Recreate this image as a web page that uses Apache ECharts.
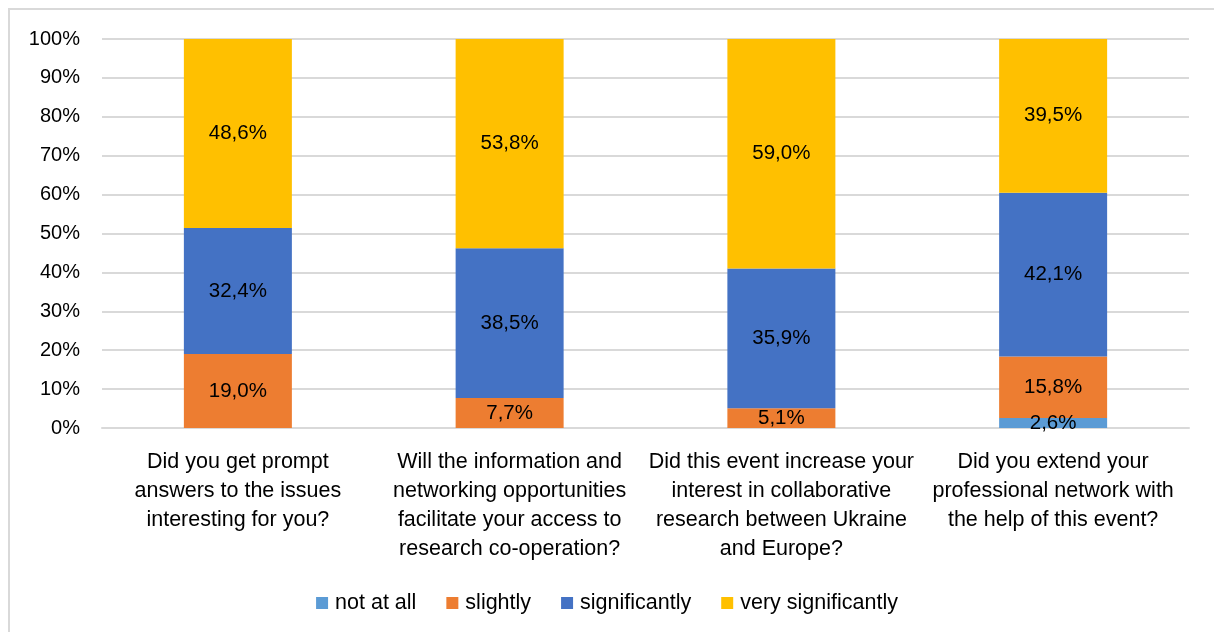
<!DOCTYPE html>
<html>
<head>
<meta charset="utf-8">
<script src="https://cdn.jsdelivr.net/npm/echarts@6/dist/echarts.min.js"></script>
<style>
  html, body { margin: 0; padding: 0; background: #fff; }
  #chart { width: 1214px; height: 632px; }
</style>
</head>
<body>
<div id="chart"></div>
<script>
// questions on the x axis (line breaks as in the picture)
var categories = [
  'Did you get prompt\nanswers to the issues\ninteresting for you?',
  'Will the information and\nnetworking opportunities\nfacilitate your access to\nresearch co-operation?',
  'Did this event increase your\ninterest in collaborative\nresearch between Ukraine\nand Europe?',
  'Did you extend your\nprofessional network with\nthe help of this event?'
]
// shares in percent
var notAtAll = [0, 0, 0, 2.6]
var slightly = [19.0, 7.7, 5.1, 15.8]
var significantly = [32.4, 38.5, 35.9, 42.1]
var verySignificantly = [48.6, 53.8, 59.0, 39.5]
var yTicks = [0, 10, 20, 30, 40, 50, 60, 70, 80, 90, 100]

var FONT = 'Liberation Sans'

function makeSeries(name, data, color) {
  return {
    name: name,
    type: 'bar',
    stack: 'total',
    barWidth: 108,
    data: data,
    itemStyle: { color: color },
    label: {
      show: true,
      position: 'inside',
      color: '#000',
      fontFamily: FONT,
      fontSize: 20.5,
      // hide zero shares, comma as decimal sign
      formatter: function (p) {
        if (!p.value) return ''
        return p.value.toFixed(1).replace('.', ',') + '%'
      }
    }
  }
}

var chart = echarts.init(document.getElementById('chart'))
chart.setOption({
  animation: false,
  textStyle: { fontFamily: FONT },
  graphic: [
    {
      type: 'rect',
      shape: { x: 9, y: 9, width: 1400, height: 800 },
      style: { fill: 'none', stroke: '#d9d9d9', lineWidth: 2 },
      silent: true
    }
  ],
  grid: { left: 102, right: 25, top: 39, bottom: 204 },
  legend: {
    top: 587,
    left: 'center',
    itemWidth: 12,
    itemHeight: 12,
    itemGap: 30,
    icon: 'rect',
    textStyle: { fontSize: 21.5, color: '#000', fontFamily: FONT, padding: [0, 0, 0, 2] },
    data: ['not at all', 'slightly', 'significantly', 'very significantly']
  },
  xAxis: {
    type: 'category',
    data: categories,
    axisLine: { lineStyle: { color: '#d9d9d9', width: 2 } },
    axisTick: { show: false },
    axisLabel: {
      interval: 0,
      margin: 20,
      color: '#000',
      fontSize: 21.5,
      lineHeight: 29,
      align: 'center',
      fontFamily: FONT
    }
  },
  yAxis: {
    type: 'value',
    min: yTicks[0],
    max: yTicks[yTicks.length - 1],
    interval: 10,
    axisLine: { show: false },
    axisTick: { show: false },
    splitLine: { lineStyle: { color: '#d9d9d9', width: 2 } },
    axisLabel: {
      color: '#000',
      fontSize: 20,
      margin: 22,
      fontFamily: FONT,
      formatter: '{value}%'
    }
  },
  series: [
    makeSeries('not at all', notAtAll, '#5b9bd5'),
    makeSeries('slightly', slightly, '#ed7d31'),
    makeSeries('significantly', significantly, '#4472c4'),
    makeSeries('very significantly', verySignificantly, '#ffc000')
  ]
})
</script>
</body>
</html>
